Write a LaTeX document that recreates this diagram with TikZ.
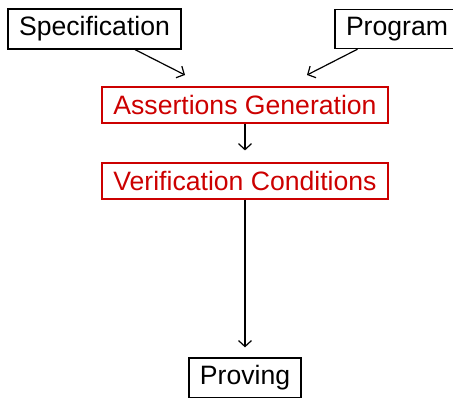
\documentclass[tikz,border=0pt]{standalone}
\usepackage{fontspec}
\setmainfont{Liberation Sans}
\usetikzlibrary{arrows.meta,positioning,calc}

\definecolor{stepred}{RGB}{204,0,0}

\begin{document}
\begin{tikzpicture}[x=1pt, y=1pt,
				      every node/.style={align=center, font=\fontsize{26.6}{30}\selectfont},
				      plainBox/.style={
						      draw, shape=rectangle, line width=1.3pt,
						      inner xsep=11pt, inner ysep=7.6pt
					      },
				      redBox/.style={
						      draw=stepred, shape=rectangle, line width=2pt,
						      inner xsep=11.5pt, inner ysep=7.8pt, text=stepred
					      },
				      flowarrow/.style={line width=1.2pt, -{Straight Barb[length=6pt,width=13pt,line width=1.2pt]}}
			      ]
			      \useasboundingbox (0,0) rectangle (453,-397);

			      % Inputs
			      \node[plainBox] (spec) at (94.5,-29) {Specification};
			      \node[plainBox] (prog) at (397,-29) {Program};

			      % Generation steps
			      \node[redBox] (assert) at (245,-105) {Assertions Generation};
			      \node[redBox] (verif) at (245,-181) {Verification Conditions};

			      % Output
			      \node[plainBox] (prove) at (245,-378) {Proving};

			      \coordinate (specIn) at (185,-75);
			      \coordinate (progIn) at (307,-75);

			      \draw[flowarrow] (spec) -- (specIn);
			      \draw[flowarrow] (prog) -- (progIn);
			      \draw[flowarrow, shorten >=12pt] (assert) -- (verif);
			      \draw[flowarrow, shorten >=10pt] (verif) -- (prove);
		      \end{tikzpicture}
\end{document}
